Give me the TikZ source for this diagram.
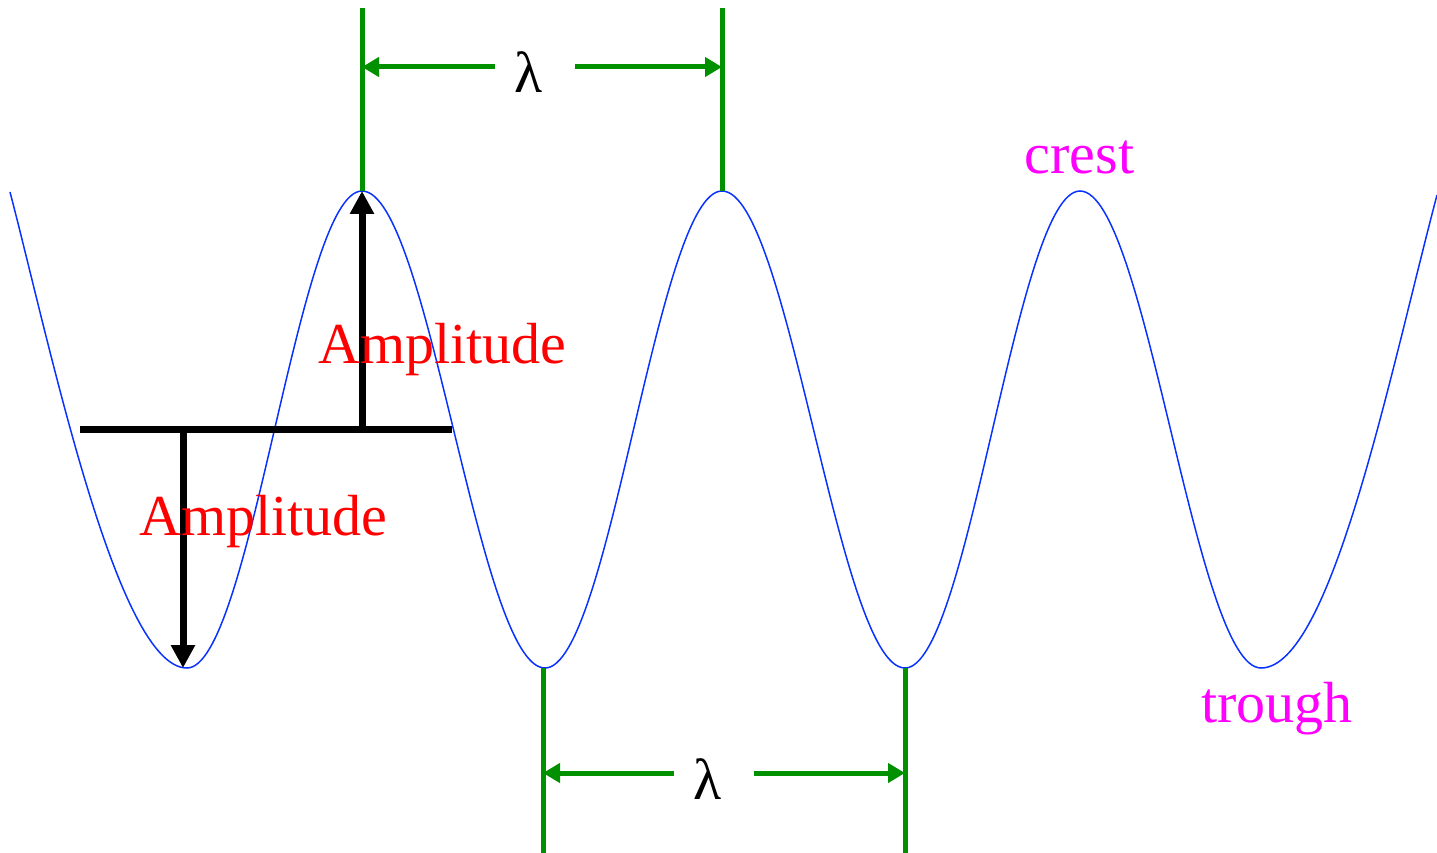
\documentclass[tikz,border=0pt]{standalone}
\usepackage{fontspec}
\setmainfont{Liberation Serif}
\usetikzlibrary{arrows.meta}
\definecolor{wgreen}{RGB}{0,144,0}
\definecolor{wblue}{RGB}{10,50,255}
\definecolor{wred}{RGB}{255,0,0}
\definecolor{wmag}{RGB}{255,0,255}
\begin{document}
\begin{tikzpicture}[x=1pt,y=-1pt,
  wave/.style={draw=wblue,line width=1.5pt},
  gline/.style={draw=wgreen,line width=5pt},
  garrow/.style={draw=wgreen,line width=5pt,-{Triangle[length=17pt,width=19pt]}},
  bline/.style={draw=black,line width=7pt},
  barrow/.style={draw=black,line width=7pt,-{Triangle[length=23pt,width=23pt]}},
  lbl/.style={inner sep=0pt,anchor=base,font=\fontsize{58}{60}\selectfont},
  amp/.style={lbl,text=wred},
  pink/.style={lbl,text=wmag},
  lam/.style={lbl,text=black}]
\useasboundingbox (0,0) rectangle (1437,853);
% wave
\draw[wave] (10,192) .. controls (50,345) and (117,668) .. (187,668)
  .. controls (250.7,668) and (298.3,191) .. (362,191)
  .. controls (428.6,191) and (478.4,668) .. (545,668)
  .. controls (609.4,668) and (657.6,191) .. (722,191)
  .. controls (788.6,191) and (838.4,668) .. (905,668)
  .. controls (968.7,668) and (1016.3,191) .. (1080,191)
  .. controls (1145.9,191) and (1195.1,668) .. (1261,668)
  .. controls (1331,668) and (1390,373) .. (1437,195);
% key points
\coordinate (cr1) at (362,191);
\coordinate (cr2) at (722,191);
\coordinate (tr1) at (183,668);
\coordinate (tr2) at (543,668);
\coordinate (tr3) at (905,668);
\coordinate (cr1top) at (362,8);
\coordinate (cr2top) at (722,8);
\coordinate (tr2bot) at (543,853);
\coordinate (tr3bot) at (905,853);
% green wavelength markers
\draw[gline] (cr1top) -- (cr1);
\draw[gline] (cr2top) -- (cr2);
\draw[gline] (tr2) -- (tr2bot);
\draw[gline] (tr3) -- (tr3bot);
\node[lam] (lamtop) at (529,93) {λ};
\node[lam] (lambot) at (708,799) {λ};
\coordinate (ta) at (362,67);
\coordinate (tb) at (722,67);
\coordinate (tgl) at (495,67);
\coordinate (tgr) at (575,67);
\coordinate (ba) at (543,773);
\coordinate (bb) at (905,773);
\coordinate (bgl) at (674,773);
\coordinate (bgr) at (754,773);
\draw[garrow] (tgl) -- (ta);
\draw[garrow] (tgr) -- (tb);
\draw[garrow] (bgl) -- (ba);
\draw[garrow] (bgr) -- (bb);
% amplitude markers
\coordinate (ml) at (80,429);
\coordinate (mr) at (452,429);
\coordinate (mup) at (362,429);
\coordinate (mdn) at (183,429);
\draw[bline] (ml) -- (mr);
\draw[barrow] (mup) -- (cr1);
\draw[barrow] (mdn) -- (tr1);
% labels
\node[amp] (amp1) at (442.5,363) {Amplitude};
\node[amp] (amp2) at (263.5,535) {Amplitude};
\node[pink] (crest) at (1079.5,174) {crest};
\node[pink] (trough) at (1277,722) {trough};
\end{tikzpicture}
\end{document}
